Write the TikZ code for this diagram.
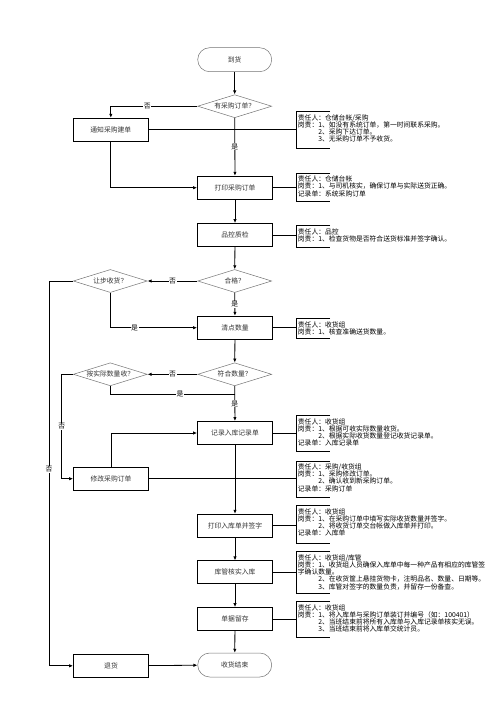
\documentclass[tikz,border=0pt]{standalone}
\usepackage{fontspec}
\setmainfont{Noto Sans CJK SC}
\usetikzlibrary{shapes.geometric,arrows.meta}

\begin{document}
\begin{tikzpicture}[x=1pt,y=-1pt,>={Latex[length=4pt,width=3.4pt]},line width=0.8pt]
\tikzstyle{block} = [rectangle, draw, minimum width=75pt, minimum height=23pt, inner sep=0pt, font=\fontsize{6.8}{8}\selectfont, text=black!80]
\tikzstyle{decision} = [diamond, draw=black!55, line width=0.5pt, minimum width=74pt, minimum height=23pt, aspect=3.2, inner sep=0pt, font=\fontsize{6.8}{8}\selectfont, text=black!80]
\tikzstyle{terminal} = [rectangle, rounded corners=12pt, draw=black!55, line width=0.5pt, minimum width=74pt, minimum height=24pt, font=\fontsize{6.8}{8}\selectfont, text=black!80]
\tikzstyle{brk} = [anchor=north west, minimum width=33pt, inner sep=0pt]
\tikzstyle{note} = [anchor=north west, align=left, inner xsep=1.2pt, inner ysep=2.2pt, font=\fontsize{6.8}{7.3}\selectfont]
\tikzstyle{lbl} = [fill=white, inner sep=0.6pt, font=\fontsize{6.8}{8}\selectfont]

\useasboundingbox (0,0) rectangle (496,702);

% main flow
\node at (234.7,59.7) [terminal] (start) {到货};
\node at (234.7,106.2) [decision] (q1) {有采购订单？};
\node at (110.8,129.7) [block] (notify) {通知采购建单};
\node at (235,187.7) [block] (printpo) {打印采购订单};
\node at (235,235) [block] (qc) {品控质检};
\node at (234.7,281) [decision] (ok) {合格？};
\node at (110.3,281) [decision] (concede) {让步收货？};
\node at (235,327.7) [block] (count) {清点数量};
\node at (234.7,374.3) [decision] (match) {符合数量？};
\node at (110.3,374.3) [decision] (actual) {按实际数量收？};
\node at (235,433) [block] (record) {记录入库记录单};
\node at (111,478.7) [block] (modify) {修改采购订单};
\node at (235,525.7) [block] (printin) {打印入库单并签字};
\node at (235,572.3) [block] (verify) {库管核实入库};
\node at (235,619) [block] (archive) {单据留存};
\node at (111,665.8) [block] (reject) {退货};
\node at (234.7,665) [terminal] (finish) {收货结束};

\coordinate (rejturn) at (49,281);
\coordinate (modturn) at (61.7,374.3);
\coordinate (yesjoin) at (234.7,394.3);

\draw[->] (start) -- (q1);
\draw[->] (q1.west) -| node[lbl, pos=0.29] (no1) {否} (notify.north);
\draw[->] (q1) -- node[lbl] (yes1) {是} (printpo);
\draw[->] (notify.south) |- (printpo.west);
\draw[->] (printpo) -- (qc);
\draw[->] (qc) -- (ok);
\draw[->] (ok) -- node[lbl] (no2) {否} (concede);
\draw[->] (ok) -- node[lbl] (yes2) {是} (count);
\draw[->] (concede.south) |- node[lbl, pos=0.64] (yes3) {是} (count.west);
\draw[->] (concede.west) -- (rejturn) |- node[lbl, pos=0.245] (no3) {否} (reject.west);
\draw[->] (count) -- (match);
\draw[->] (match) -- node[lbl] (no4) {否} (actual);
\draw[->] (match) -- node[lbl] (yes4) {是} (record);
\draw (actual.south) |- node[lbl, pos=0.78] (yes5) {是} (yesjoin);
\draw[->] (actual.west) -- (modturn) |- node[lbl, pos=0.25] (no5) {否} (modify.west);
\draw[->] (modify.north) |- (record.west);
\draw[->] (record) -- (printin);
\draw[->] (printin) -- (verify);
\draw[->] (verify) -- (archive);
\draw[->] (archive) -- (finish);
\draw[->] (reject) -- (finish);

% notes
\node at (296.3,111.7) [brk, minimum height=35.6pt] (b1) {};
\node at (b1.north west) [note] (n1) {责任人：仓储台帐/采购\\岗责：1、如没有系统订单，第一时间联系采购。\\\hspace*{3em}2、采购下达订单。\\\hspace*{3em}3、无采购订单不予收货。};
\draw (b1.north east) -- (b1.north west) -- (b1.south west) -- (b1.south east);
\draw (notify.east) -- (notify.east -| b1.west);

\node at (296.3,173.3) [brk, minimum height=27pt] (b2) {};
\node at (b2.north west) [note] (n2) {责任人：仓储台帐\\岗责：1、与司机核实，确保订单与实际送货正确。\\记录单：系统采购订单};
\draw (b2.north east) -- (b2.north west) -- (b2.south west) -- (b2.south east);
\draw (printpo.east) -- (printpo.east -| b2.west);

\node at (296.3,225.7) [brk, minimum height=20.5pt] (b3) {};
\node at (b3.north west) [note] (n3) {责任人：品控\\岗责：1、检查货物是否符合送货标准并签字确认。};
\draw (b3.north east) -- (b3.north west) -- (b3.south west) -- (b3.south east);
\draw (qc.east) -- (qc.east -| b3.west);

\node at (296.3,318.7) [brk, minimum height=18.6pt] (b4) {};
\node at (b4.north west) [note] (n4) {责任人：收货组\\岗责：1、核查准确送货数量。};
\draw (b4.north east) -- (b4.north west) -- (b4.south west) -- (b4.south east);
\draw (count.east) -- (count.east -| b4.west);

\node at (296.3,415.7) [brk, minimum height=35pt] (b5) {};
\node at (b5.north west) [note] (n5) {责任人：收货组\\岗责：1、根据可收实际数量收货。\\\hspace*{3em}2、根据实际收货数量登记收货记录单。\\记录单：入库记录单};
\draw (b5.north east) -- (b5.north west) -- (b5.south west) -- (b5.south east);
\draw (record.east) -- (record.east -| b5.west);

\node at (296.3,461) [brk, minimum height=36pt] (b6) {};
\node at (b6.north west) [note] (n6) {责任人：采购/收货组\\岗责：1、采购修改订单。\\\hspace*{3em}2、确认收到新采购订单。\\记录单：采购订单};
\draw (b6.north east) -- (b6.north west) -- (b6.south west) -- (b6.south east);
\draw (modify.east) -- (modify.east -| b6.west);

\node at (296.3,505.7) [brk, minimum height=37pt] (b7) {};
\node at (b7.north west) [note] (n7) {责任人：收货组\\岗责：1、在采购订单中填写实际收货数量并签字。\\\hspace*{3em}2、将收货订单交台帐做入库单并打印。\\记录单：入库单};
\draw (b7.north east) -- (b7.north west) -- (b7.south west) -- (b7.south east);
\draw (printin.east) -- (printin.east -| b7.west);

\node at (296.3,551.7) [brk, minimum height=41pt] (b8) {};
\node at (b8.north west) [note] (n8) {责任人：收货组/库管\\岗责：1、收货组人员确保入库单中每一种产品有相应的库管签\\字确认数量。\\\hspace*{3em}2、在收货筐上悬挂货物卡，注明品名、数量、日期等。\\\hspace*{3em}3、库管对签字的数量负责，并留存一份备查。};
\draw (b8.north east) -- (b8.north west) -- (b8.south west) -- (b8.south east);
\draw (verify.east) -- (verify.east -| b8.west);

\node at (296.3,601.7) [brk, minimum height=34.6pt] (b9) {};
\node at (b9.north west) [note] (n9) {责任人：收货组\\岗责：1、将入库单与采购订单装订并编号（如：100401）\\\hspace*{3em}2、当班结束前将所有入库单与入库记录单核实无误。\\\hspace*{3em}3、当班结束前将入库单交统计员。};
\draw (b9.north east) -- (b9.north west) -- (b9.south west) -- (b9.south east);
\draw (archive.east) -- (archive.east -| b9.west);

\end{tikzpicture}
\end{document}
